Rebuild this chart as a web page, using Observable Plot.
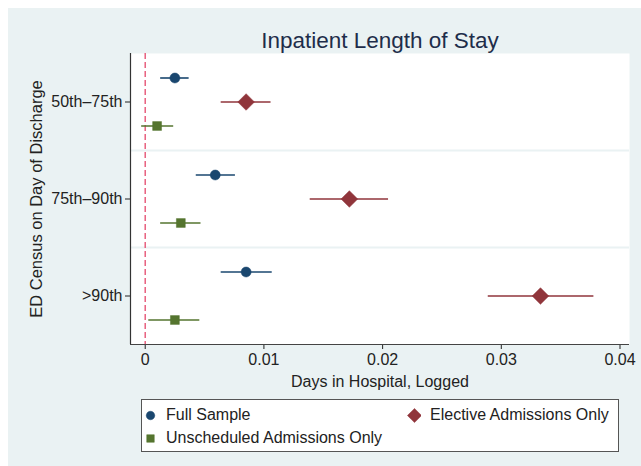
<!DOCTYPE html>
<html>
<head>
<meta charset="utf-8">
<script src="https://cdn.jsdelivr.net/npm/d3@7"></script>
<script src="https://cdn.jsdelivr.net/npm/@observablehq/plot@0.6"></script>
<style>
  html, body { margin: 0; padding: 0; background: #ffffff; }
  body { width: 641px; height: 466px; position: relative; overflow: hidden; font-family: Arial, "Liberation Sans", sans-serif; }
  #chart { position: absolute; left: 8px; top: 8px; }
  #legend { position: absolute; left: 141px; top: 399px; width: 478px; height: 53px; box-sizing: border-box;
    border: 1.3px solid #555; background: #fff; font-size: 16px; color: #222; }
  .item { position: absolute; display: flex; align-items: center; white-space: nowrap; }
  .item svg { margin-right: 9px; }
</style>
</head>
<body>
<div id="chart"></div>
<div id="legend"></div>
<script>
const categories = ["50th–75th", "75th–90th", ">90th"];
const seriesNames = ["Full Sample", "Elective Admissions Only", "Unscheduled Admissions Only"];
const seriesColors = ["#1a476f", "#90353b", "#55752f"];
const seriesSymbols = ["circle", "diamond2", "square"];

// point estimates and confidence limits per category (order of categories)
const fullEst = [0.0025, 0.0059, 0.0085];
const fullLo  = [0.0013, 0.0043, 0.0064];
const fullHi  = [0.0037, 0.0076, 0.0107];

const electiveEst = [0.0085, 0.0172, 0.0333];
const electiveLo  = [0.0064, 0.0139, 0.0289];
const electiveHi  = [0.0106, 0.0205, 0.0378];

const unschedEst = [0.0010, 0.0030, 0.0025];
const unschedLo  = [-0.0003, 0.0013, 0.0003];
const unschedHi  = [0.0024, 0.0047, 0.0046];

const xTicks = [0, 0.01, 0.02, 0.03, 0.04];
const xTickLabels = ["0", "0.01", "0.02", "0.03", "0.04"];

const build = (est, lo, hi) => categories.map((c, i) => ({group: c, est: est[i], lo: lo[i], hi: hi[i]}));
const series = [build(fullEst, fullLo, fullHi), build(electiveEst, electiveLo, electiveHi), build(unschedEst, unschedLo, unschedHi)];
const offsets = [-24, 0, 24];
const symbolSizes = [5, 7.5, 5];

const bg = "#eaf2f3";
const marks = [
  Plot.frame({fill: "white", stroke: null}),
  Plot.ruleY(categories.slice(1), {dy: -48.5, stroke: bg, strokeWidth: 2}),
  Plot.ruleX([0], {stroke: "#e8617f", strokeWidth: 1.5, strokeDasharray: "6,3"}),
];
series.forEach((s, k) => {
  marks.push(Plot.ruleY(s, {y: "group", x1: "lo", x2: "hi", dy: offsets[k], stroke: seriesColors[k], strokeWidth: 1.6}));
  marks.push(Plot.dot(s, {y: "group", x: "est", dy: offsets[k], symbol: () => seriesSymbols[k], r: symbolSizes[k], fill: seriesColors[k], stroke: seriesColors[k], strokeWidth: 0.5}));
});
marks.push(Plot.axisX({ticks: xTicks, tickFormat: (d) => xTickLabels[xTicks.indexOf(d)], tickSize: 5, tickPadding: 4, fontSize: 16, color: "#222", label: null}));
marks.push(Plot.axisY({tickSize: 5, tickPadding: 3, fontSize: 16, color: "#222", label: null}));
marks.push(Plot.ruleX([-0.00124], {stroke: "#333", strokeWidth: 1.2}));
marks.push(Plot.ruleY([categories[2]], {dy: 48.5, stroke: "#444", strokeWidth: 1.2}));
marks.push(Plot.text(["Inpatient Length of Stay"], {frameAnchor: "top", dy: -13, lineAnchor: "middle", fontSize: 22.5, fill: "#1e2d4a"}));
marks.push(Plot.text(["Days in Hospital, Logged"], {frameAnchor: "bottom", dy: 37, lineAnchor: "middle", fontSize: 16, fill: "#222"}));
marks.push(Plot.text(["ED Census on Day of Discharge"], {frameAnchor: "left", dx: -94, rotate: -90, lineAnchor: "middle", textAnchor: "middle", fontSize: 16.5, fill: "#222"}));

const plot = Plot.plot({
  width: 633,
  height: 458,
  marginLeft: 122,
  marginRight: 12,
  marginTop: 45,
  marginBottom: 122,
  style: {background: bg, fontFamily: "Arial, 'Liberation Sans', sans-serif", overflow: "visible"},
  x: {domain: [-0.00124, 0.0408]},
  y: {type: "band", domain: categories, padding: 0},
  marks
});
document.getElementById("chart").appendChild(plot);

// Legend
const legend = document.getElementById("legend");
const items = [
  {k: 0, left: 1, top: 6},
  {k: 1, left: 265, top: 6},
  {k: 2, left: 1, top: 29},
];
items.forEach(({k, left, top}) => {
  const div = document.createElement("div");
  div.className = "item";
  div.style.left = left + "px";
  div.style.top = top + "px";
  const sym = Plot.plot({
    width: 14, height: 18, margin: 0,
    x: {domain: [0, 1]}, y: {domain: [0, 1]}, axis: null,
    style: {background: "transparent"},
    marks: [Plot.dot([0], {x: () => 0.5, y: () => 0.5, symbol: () => seriesSymbols[k], r: symbolSizes[k] * 0.85, fill: seriesColors[k], stroke: seriesColors[k], strokeWidth: 0.5})]
  });
  div.appendChild(sym);
  const span = document.createElement("span");
  span.textContent = seriesNames[k];
  div.appendChild(span);
  legend.appendChild(div);
});
</script>
</body>
</html>
